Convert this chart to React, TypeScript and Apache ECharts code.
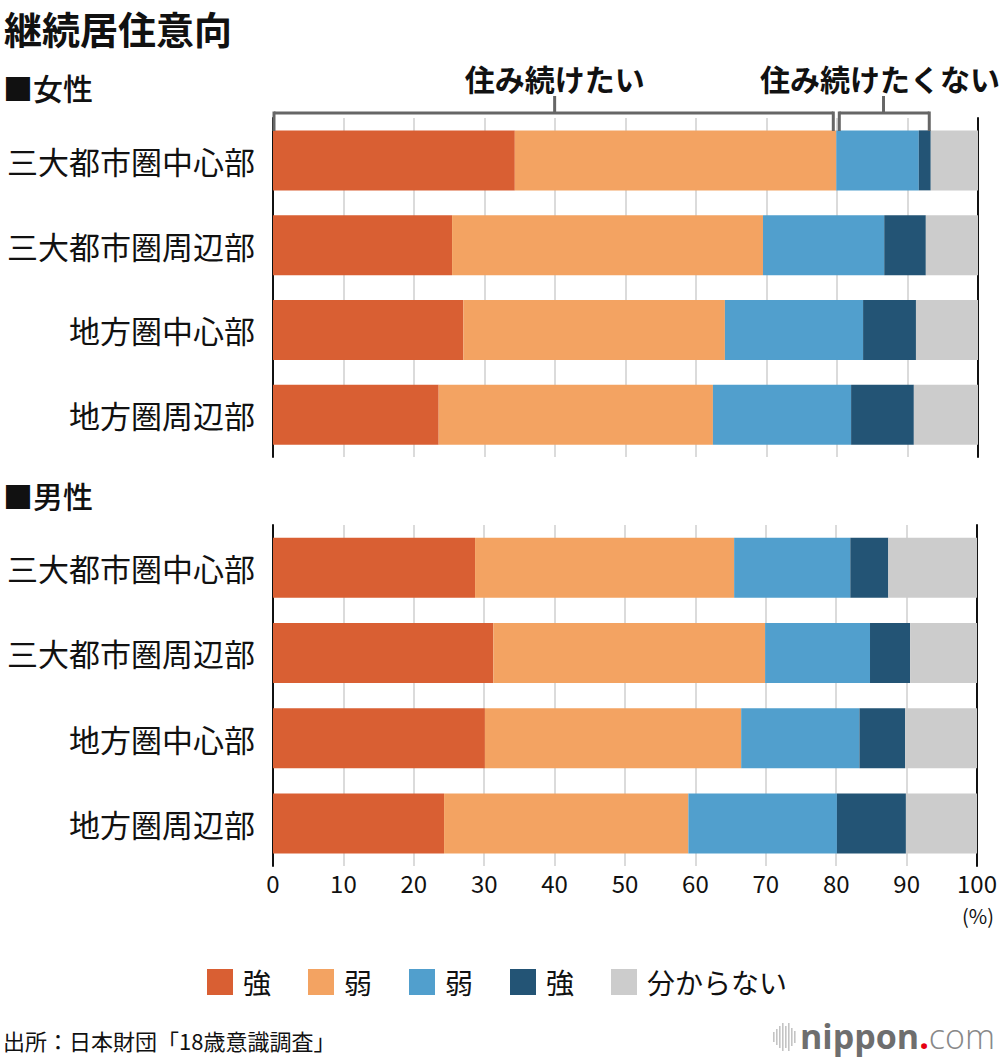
import React, { useEffect, useRef } from 'react';
import * as echarts from 'echarts';

const categories = ['三大都市圏中心部', '三大都市圏周辺部', '地方圏中心部', '地方圏周辺部'];
const seriesKeys = ['strongStay', 'weakStay', 'weakLeave', 'strongLeave', 'unknown'];
const legendLabels = ['強', '弱', '弱', '強', '分からない'];
const colors = ['#D95F33', '#F3A362', '#519FCD', '#235475', '#CCCCCC'];

// 女性
const femaleStrongStay = [34.3, 25.4, 27.0, 23.5];
const femaleWeakStay = [45.6, 44.1, 37.1, 38.9];
const femaleWeakLeave = [11.7, 17.2, 19.6, 19.6];
const femaleStrongLeave = [1.7, 5.9, 7.5, 8.9];
const femaleUnknown = [6.7, 7.4, 8.8, 9.1];

// 男性
const maleStrongStay = [28.7, 31.3, 30.1, 24.3];
const maleWeakStay = [36.8, 38.6, 36.4, 34.7];
const maleWeakLeave = [16.5, 14.9, 16.8, 21.1];
const maleStrongLeave = [5.4, 5.7, 6.5, 9.8];
const maleUnknown = [12.6, 9.5, 10.2, 10.1];

const xMin = 0;
const xMax = 100;
const xInterval = 10;

const FONT = '"Noto Sans CJK JP", "Noto Sans", sans-serif';

export default function App() {
  const ref = useRef<HTMLDivElement>(null);

  useEffect(() => {
    document.body.style.margin = '0';
    if (!ref.current) return;
    const chart = echarts.init(ref.current, undefined, { renderer: 'svg' });

    const female = [femaleStrongStay, femaleWeakStay, femaleWeakLeave, femaleStrongLeave, femaleUnknown];
    const male = [maleStrongStay, maleWeakStay, maleWeakLeave, maleStrongLeave, maleUnknown];

    const grids = [
      { left: 273, right: 22, top: 118, height: 339 },
      { left: 273, right: 22, top: 525, height: 341 },
    ];

    const xAxes = [0, 1].map((g) => ({
      type: 'value',
      gridIndex: g,
      min: xMin,
      max: xMax,
      interval: xInterval,
      axisLine: { show: false },
      axisTick: { show: false },
      splitLine: { show: true, lineStyle: { color: '#cfcfcf', width: 1.5 } },
      axisLabel: {
        show: g === 1,
        color: '#111',
        fontSize: 24,
        fontFamily: FONT,
        margin: 4,
      },
    }));

    const yAxes: any[] = [];
    [0, 1].forEach((g) => {
      yAxes.push({
        type: 'category',
        gridIndex: g,
        data: categories,
        inverse: true,
        axisLine: { show: true, lineStyle: { color: '#111', width: 2 } },
        axisTick: { show: false },
        axisLabel: { color: '#111', fontSize: 31, fontFamily: FONT, margin: 18 },
      });
      yAxes.push({
        type: 'category',
        gridIndex: g,
        data: categories,
        inverse: true,
        position: 'right',
        axisLine: { show: true, lineStyle: { color: '#111', width: 2 } },
        axisTick: { show: false },
        axisLabel: { show: false },
      });
    });

    const series: any[] = [];
    [female, male].forEach((group, g) => {
      group.forEach((vals, i) => {
        series.push({
          type: 'bar',
          name: seriesKeys[i],
          stack: 'g' + g,
          xAxisIndex: g,
          yAxisIndex: g * 2,
          data: vals,
          barWidth: 60,
          itemStyle: { color: colors[i] },
          emphasis: { disabled: true },
        });
      });
    });

    chart.setOption({
      animation: false,
      grid: grids,
      xAxis: xAxes,
      yAxis: yAxes,
      series,
      legend: {
        data: seriesKeys,
        left: 207,
        top: 968,
        padding: 0,
        itemWidth: 26,
        itemHeight: 26,
        itemGap: 37,
        icon: 'rect',
        formatter: (name: string) => legendLabels[seriesKeys.indexOf(name)],
        textStyle: { fontSize: 28, color: '#111', fontFamily: FONT, padding: [0, 0, 0, 5] },
        selectedMode: false,
      },
    });

    // bracket positions from data
    const stayEnd = femaleStrongStay[0] + femaleWeakStay[0];
    const leaveEnd = stayEnd + femaleWeakLeave[0] + femaleStrongLeave[0];
    const px = (v: number) => chart.convertToPixel({ gridIndex: 0 }, [v, 0])[0];
    const x0 = px(0);
    const x1 = px(stayEnd);
    const x2 = px(leaveEnd);
    const barTop = 131;
    const yH = 113;
    const yTickTop = 96;
    const bc = '#666';
    const bw = 3;
    const c1 = (x0 + x1) / 2;
    const c2 = (x1 + x2) / 2;

    const line = (xa: number, ya: number, xb: number, yb: number) => ({
      type: 'line',
      shape: { x1: xa, y1: ya, x2: xb, y2: yb },
      style: { stroke: bc, lineWidth: bw },
      z: 100,
    });

    const logoBars = [10, 16, 22, 28, 22, 28, 18, 12];

    chart.setOption({
      graphic: [
        {
          type: 'text', x: 4, y: 27,
          style: { text: '継続居住意向', fontSize: 38, fontWeight: 'bold', fill: '#111', fontFamily: FONT, verticalAlign: 'middle', lineHeight: 40 },
        },
        {
          type: 'text', left: 3, top: 72,
          style: { text: '■女性', fontSize: 30, fontWeight: 500, fill: '#111', fontFamily: FONT },
        },
        {
          type: 'text', left: 3, top: 480,
          style: { text: '■男性', fontSize: 30, fontWeight: 500, fill: '#111', fontFamily: FONT },
        },
        // bracket 1
        line(x0 + 1, yH, x1 - 3, yH),
        line(x0 + 1, yH - 1.5, x0 + 1, barTop),
        line(x1 - 3, yH - 1.5, x1 - 3, barTop),
        line(c1, yTickTop, c1, yH),
        // bracket 2
        line(x1 + 3, yH, x2 - 1.5, yH),
        line(x1 + 3, yH - 1.5, x1 + 3, barTop),
        line(x2 - 1.5, yH - 1.5, x2 - 1.5, barTop),
        line(c2, yTickTop, c2, yH),
        {
          type: 'text', x: c1, y: 78,
          style: { text: '住み続けたい', fontSize: 30, fontWeight: 'bold', fill: '#111', fontFamily: FONT, align: 'center', verticalAlign: 'middle' },
        },
        {
          type: 'text', x: 880, y: 78,
          style: { text: '住み続けたくない', fontSize: 30, fontWeight: 'bold', fill: '#111', fontFamily: FONT, align: 'center', verticalAlign: 'middle' },
        },
        {
          type: 'text', x: 978, y: 915,
          style: { text: '(%)', fontSize: 20, fill: '#111', fontFamily: FONT, align: 'center', verticalAlign: 'middle' },
        },
        {
          type: 'text', x: 3, y: 1040,
          style: { text: '出所：日本財団「18歳意識調査」', fontSize: 22, fill: '#111', fontFamily: FONT, verticalAlign: 'middle' },
        },
        ...logoBars.map((h, i) => ({
          type: 'rect',
          shape: { x: 773 + i * 3, y: 1037 - h / 2, width: 1.6, height: h },
          style: { fill: '#c4c4c4' },
        })),
        {
          type: 'text', x: 800, y: 1036,
          style: {
            text: '{a|nippon}{b|.}{c|com}',
            verticalAlign: 'middle',
            rich: {
              a: { fontSize: 34, fontWeight: 'bold', fill: '#6e6e6e', fontFamily: '"Open Sans", sans-serif' },
              b: { fontSize: 34, fontWeight: 'bold', fill: '#e60012', fontFamily: '"Open Sans", sans-serif' },
              c: { fontSize: 34, fontWeight: 300, fill: '#888888', fontFamily: '"Open Sans", sans-serif' },
            },
          },
        },
      ],
    });

    return () => chart.dispose();
  }, []);

  return <div ref={ref} style={{ width: 1000, height: 1060 }} />;
}
